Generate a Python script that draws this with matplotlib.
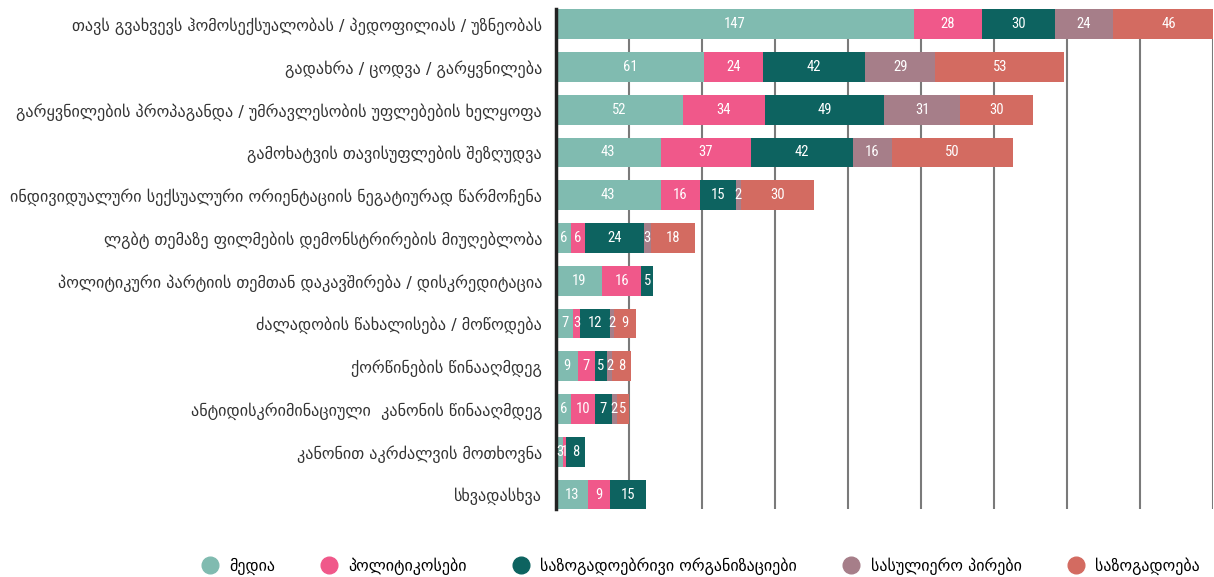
import matplotlib
matplotlib.use('Agg')
import matplotlib.pyplot as plt
from matplotlib.lines import Line2D
import numpy as np

categories = [
    'თავს გვახვევს ჰომოსექსუალობას / პედოფილიას / უზნეობას',
    'გადახრა / ცოდვა / გარყვნილება',
    'გარყვნილების პროპაგანდა / უმრავლესობის უფლებების ხელყოფა',
    'გამოხატვის თავისუფლების შეზღუდვა',
    'ინდივიდუალური სექსუალური ორიენტაციის ნეგატიურად წარმოჩენა',
    'ლგბტ თემაზე ფილმების დემონსტრირების მიუღებლობა',
    'პოლიტიკური პარტიის თემთან დაკავშირება / დისკრედიტაცია',
    'ძალადობის წახალისება / მოწოდება',
    'ქორწინების წინააღმდეგ',
    'ანტიდისკრიმინაციული  კანონის წინააღმდეგ',
    'კანონით აკრძალვის მოთხოვნა',
    'სხვადასხვა',
]

# legend names (the reference uses Georgian capitals, which no installed font has)
series_names = ['მედია', 'პოლიტიკოსები', 'საზოგადოებრივი ორგანიზაციები',
                'სასულიერო პირები', 'საზოგადოება']

media = [147, 61, 52, 43, 43, 6, 19, 7, 9, 6, 3, 13]
politicians = [28, 24, 34, 37, 16, 6, 16, 3, 7, 10, 1, 9]
public_orgs = [30, 42, 49, 42, 15, 24, 5, 12, 5, 7, 8, 15]
clergy = [24, 29, 31, 16, 2, 3, 0, 2, 2, 2, 0, 0]
society = [46, 53, 30, 50, 30, 18, 0, 9, 8, 5, 0, 0]

colors = ['#80BBB0', '#F0588A', '#0D6360', '#A67E89', '#D36B61']

fig = plt.figure(figsize=(12.14, 5.77), dpi=100)
ax = fig.add_axes([0.458, 0.117, 0.541, 0.867])

y = np.arange(len(categories))
left = np.zeros(len(categories))
num_font = dict(family=['Roboto Condensed', 'DejaVu Sans Condensed',
                        'Liberation Sans Narrow', 'Roboto'], stretch='condensed')
for vals, col in zip([media, politicians, public_orgs, clergy, society], colors):
    vals = np.array(vals, dtype=float)
    ax.barh(y, vals, left=left, height=0.70, color=col, zorder=2)
    for yi, (l, v) in enumerate(zip(left, vals)):
        if v > 0:
            ax.text(l + v / 2, yi, str(int(v)), color='white', ha='center', va='center',
                    fontsize=10.5, zorder=3, **num_font)
    left += vals

ax.set_xlim(0, 270)
ax.set_ylim(len(categories) - 0.65, -0.35)
ax.set_xticks(np.arange(30, 271, 30))
ax.grid(axis='x', color='#7a7a7a', linewidth=1.5, zorder=0)
ax.set_axisbelow(True)
ax.tick_params(axis='x', length=0, labelbottom=False)
ax.tick_params(axis='y', length=0, pad=10)
ax.set_yticks(y)
ax.set_yticklabels(categories, fontsize=11.6, color='#333333', family='DejaVu Sans')
for s in ['top', 'right', 'bottom']:
    ax.spines[s].set_visible(False)
ax.spines['left'].set_color('#222222')
ax.spines['left'].set_linewidth(2.5)

handles = [Line2D([0], [0], marker='o', linestyle='', markersize=12,
                  markerfacecolor=c, markeredgecolor=c) for c in colors]
fig.legend(handles, series_names, loc='center right', bbox_to_anchor=(1.0, 0.019),
           ncol=5, frameon=False, handletextpad=0.2, columnspacing=2.4,
           prop=dict(family='DejaVu Sans', size=11.5))

fig.savefig('out.png', dpi=100)
